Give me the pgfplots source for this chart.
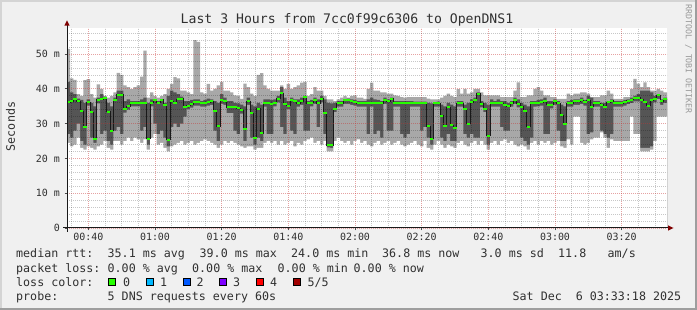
\documentclass[border=0pt]{standalone}
\usepackage{fontspec}
\setmainfont{DejaVu Sans Mono}
\usepackage{pgfplots}
\usepackage{pgfplotstable}
\pgfplotsset{compat=1.18}

\definecolor{bgc}{HTML}{F0F0F0}
\definecolor{shadea}{HTML}{D4D4D4}
\definecolor{shadeb}{HTML}{9E9E9E}
\definecolor{smokel}{HTML}{A8A8A8}
\definecolor{smoked}{HTML}{555555}
\definecolor{medgreen}{HTML}{26FF00}
\definecolor{arrowc}{HTML}{7F0000}
\definecolor{mgrid}{HTML}{C83232}
\definecolor{lc1}{HTML}{00B8FF}
\definecolor{lc2}{HTML}{0059FF}
\definecolor{lc3}{HTML}{7E00FF}
\definecolor{lc4}{HTML}{FF0000}
\definecolor{lc5}{HTML}{A10000}
\definecolor{txt}{HTML}{303030}

\newcommand\tfont{\fontsize{13.2}{15}\selectfont}
\newcommand\lfont{\fontsize{11.7}{14}\selectfont}
\newcommand\afont{\fontsize{10}{12}\selectfont}
\newcommand\wfont{\fontsize{8.3}{10}\selectfont}

\pgfplotstableread{
t lo q2 med q4 hi
33 24.5 27.0 36.2 42.0 51.5
34 24.5 27.0 36.2 42.0 51.5
35 23.5 26.0 36.5 39.0 43.0
36 24.0 28.0 37.0 38.5 42.6
37 26.0 30.0 36.5 37.2 38.5
38 23.0 25.0 33.5 36.8 38.0
39 22.5 24.0 29.0 36.0 42.5
40 23.5 35.2 36.2 37.0 42.8
41 23.0 26.0 33.3 36.0 38.5
42 22.5 24.5 25.7 35.0 37.5
43 23.5 35.8 36.8 37.5 41.3
44 24.0 27.0 37.0 38.5 40.0
45 25.0 28.0 37.3 37.8 38.0
46 23.0 25.0 33.4 36.0 37.5
47 22.5 24.0 28.0 35.0 38.0
48 25.0 28.0 36.8 37.5 39.0
49 25.0 29.0 38.3 39.5 44.6
50 24.0 27.0 38.3 39.5 44.0
51 25.0 33.2 34.2 36.5 41.0
52 26.0 34.0 35.0 37.0 40.5
53 25.0 35.0 36.0 36.5 39.9
54 26.0 35.0 36.0 36.5 40.5
55 25.5 35.0 36.0 36.5 41.0
56 24.5 28.0 36.0 37.0 43.5
57 25.5 29.0 35.8 37.5 51.0
58 22.5 24.0 25.7 36.0 37.5
59 26.0 35.0 36.0 37.0 39.0
60 27.0 30.0 36.8 37.0 38.0
61 24.0 27.0 36.0 36.5 37.5
62 24.5 28.0 36.8 37.0 38.0
63 23.0 26.0 35.5 36.0 38.5
64 22.0 23.5 25.3 38.0 40.0
65 23.5 29.0 36.4 39.5 41.4
66 24.0 30.0 36.0 39.0 43.4
67 24.5 29.0 37.0 38.5 43.0
68 25.0 30.0 37.1 37.8 39.5
69 24.0 32.0 34.7 36.5 39.5
70 24.5 34.2 35.2 36.5 39.0
71 25.0 34.6 35.6 36.8 38.5
72 24.0 35.2 36.2 37.0 54.0
73 24.5 35.2 36.2 37.0 53.5
74 25.0 34.9 35.9 36.5 39.0
75 25.5 34.9 35.9 36.8 38.6
76 25.0 35.2 36.2 37.2 41.4
77 24.5 35.4 36.4 37.0 39.5
78 24.0 28.0 33.5 36.5 40.0
79 23.0 25.0 29.2 36.0 41.0
80 24.0 35.7 36.7 38.5 42.0
81 25.0 35.4 36.4 37.5 39.5
82 24.5 33.0 34.7 36.5 39.5
83 25.0 33.0 34.7 36.5 39.0
84 24.5 28.0 34.9 36.0 38.1
85 24.0 27.0 34.4 35.8 38.0
86 23.5 32.9 33.9 35.5 37.1
87 23.0 25.0 28.6 35.0 41.5
88 23.5 35.4 36.4 37.5 40.5
89 23.5 26.0 33.0 35.5 38.6
90 22.5 24.0 26.0 35.0 38.0
91 23.0 26.0 34.3 36.0 44.0
92 23.0 25.0 27.3 35.5 44.5
93 24.5 34.9 35.9 37.0 41.0
94 25.0 27.0 35.9 37.0 40.0
95 24.5 27.0 35.7 36.8 39.5
96 25.0 35.0 36.0 37.0 39.5
97 24.0 36.1 37.1 38.0 39.5
98 25.0 29.0 38.8 40.5 41.0
99 24.0 27.0 35.7 37.5 40.0
100 24.5 34.2 35.2 36.5 41.4
101 25.0 28.0 36.7 37.5 40.0
102 23.5 27.0 36.4 37.0 40.5
103 24.5 34.9 35.9 37.0 41.0
104 24.0 35.4 36.4 37.5 41.8
105 25.0 28.0 37.6 38.0 42.0
106 25.5 28.0 35.9 36.5 38.0
107 26.0 35.0 36.0 36.8 38.5
108 24.5 35.7 36.7 37.5 40.5
109 25.0 29.0 35.9 37.0 39.5
110 24.0 36.1 37.1 38.0 39.5
111 25.0 27.0 33.1 37.0 38.0
112 22.0 23.2 23.8 36.0 37.0
113 22.0 23.0 23.8 35.8 37.0
114 25.0 33.3 34.3 36.0 36.5
115 26.0 34.9 35.9 36.5 37.0
116 25.0 34.9 35.9 36.5 37.5
117 24.5 35.7 36.7 37.0 38.0
118 25.0 35.7 36.7 37.2 37.5
119 24.0 35.4 36.4 37.0 38.0
120 25.0 35.2 36.2 36.8 38.1
121 25.5 34.9 35.9 36.5 37.5
122 24.5 34.9 35.9 36.5 37.5
123 25.0 34.9 35.9 36.5 37.1
124 24.0 27.0 35.9 37.0 40.0
125 23.5 34.9 35.9 37.5 41.8
126 24.5 27.0 35.9 37.0 39.5
127 25.0 28.0 35.9 36.8 39.5
128 24.0 26.0 35.9 36.5 39.0
129 24.5 35.7 36.7 37.5 39.0
130 25.0 28.0 36.4 37.0 38.6
131 24.0 28.0 37.1 37.5 38.6
132 24.5 34.9 35.9 36.5 38.1
133 25.0 34.9 35.9 36.5 38.0
134 24.0 27.0 35.9 36.5 37.6
135 23.5 26.0 35.9 36.5 37.5
136 24.0 27.0 35.9 36.5 37.6
137 24.5 34.9 35.9 36.5 37.6
138 25.0 34.9 35.9 36.3 37.6
139 24.0 34.9 35.9 36.3 37.6
140 23.5 28.0 35.9 36.3 37.6
141 25.0 29.0 35.9 36.3 37.6
142 23.0 26.0 29.3 36.0 37.2
143 22.5 24.0 25.7 35.8 37.0
144 24.0 34.9 35.9 36.2 37.0
145 25.0 34.9 35.9 36.3 37.0
146 24.0 26.0 32.2 35.5 37.5
147 23.0 25.0 29.3 35.0 38.0
148 24.0 27.0 34.7 36.0 38.6
149 23.5 25.0 29.5 35.5 38.0
150 23.0 25.0 28.7 35.0 37.6
151 24.5 34.9 35.9 36.5 39.9
152 25.0 34.9 35.9 36.5 38.6
153 24.0 27.0 34.3 35.5 40.0
154 23.5 26.0 30.0 36.0 38.6
155 24.5 27.0 36.2 37.0 39.0
156 25.0 26.0 36.7 37.5 40.0
157 24.0 26.0 38.6 39.0 40.0
158 25.0 34.7 35.7 36.5 39.0
159 24.0 33.3 34.3 36.0 38.1
160 22.5 24.0 26.5 35.5 38.1
161 24.5 34.9 35.9 37.0 38.1
162 25.0 34.9 35.9 36.5 38.1
163 24.0 34.9 35.9 37.0 38.1
164 25.0 29.0 35.9 36.5 37.6
165 25.5 28.0 35.5 36.5 37.6
166 24.5 28.0 35.0 36.0 37.6
167 25.0 34.9 35.9 36.5 37.6
168 24.0 35.7 36.7 37.5 39.5
169 23.5 34.7 35.7 37.0 41.9
170 24.0 26.0 34.8 36.0 37.6
171 23.5 25.0 33.5 35.5 37.6
172 22.5 24.0 29.1 35.0 38.1
173 24.5 26.0 35.9 36.5 38.1
174 25.0 34.9 35.9 36.5 40.0
175 24.0 35.0 36.0 36.8 40.5
176 25.0 35.2 36.2 37.0 39.5
177 24.5 27.0 36.4 37.5 38.1
178 25.0 27.0 35.4 36.5 38.1
179 24.0 34.4 35.4 36.5 37.6
180 24.5 35.4 36.4 37.0 37.6
181 25.0 28.0 35.9 36.5 37.1
182 23.5 25.0 32.4 35.5 37.1
183 23.0 25.0 30.0 35.0 37.1
184 25.5 34.9 35.9 36.5 38.6
185 24.0 34.9 35.9 36.8 38.1
186 32.0 35.4 36.4 37.0 38.6
187 32.0 35.4 36.4 37.0 38.6
188 24.5 35.7 36.7 37.5 39.0
189 24.0 35.2 36.2 36.8 39.0
190 24.5 27.0 36.7 38.0 38.6
191 25.5 27.5 34.8 37.5 37.6
192 26.0 34.9 35.9 36.5 37.6
193 26.0 34.9 35.9 36.5 37.6
194 27.5 28.0 35.4 36.0 38.1
195 26.0 27.0 34.8 36.0 38.1
196 23.0 26.0 36.2 36.5 39.5
197 25.5 27.0 36.6 37.0 38.6
198 25.0 34.9 35.9 36.5 37.1
199 25.0 34.9 35.9 36.5 37.1
200 25.0 34.9 35.9 36.5 37.1
201 25.0 35.2 36.2 36.8 37.6
202 25.0 35.6 36.6 37.0 37.6
203 32.0 35.9 36.9 37.5 40.0
204 27.0 36.4 37.4 38.0 42.9
205 27.0 36.4 37.4 38.5 41.5
206 22.0 23.0 36.9 39.5 40.5
207 22.0 23.0 36.3 39.5 41.9
208 22.0 23.0 35.2 39.5 40.5
209 22.5 23.5 36.7 39.0 39.5
210 25.0 36.1 37.1 38.0 39.5
211 32.0 37.1 38.1 38.5 40.0
212 32.0 35.4 36.4 37.0 39.5
213 32.0 36.0 37.0 37.5 39.0
214 32.0 36.0 37.0 37.5 39.0
}\smoke

\begin{document}
\begin{tikzpicture}
% background and 3D frame
\fill[bgc] (0bp,0bp) rectangle (697bp,310bp);
\fill[shadea] (0bp,0bp) rectangle (2bp,310bp);
\fill[shadea] (0bp,308bp) rectangle (697bp,310bp);
\fill[shadeb] (0bp,0bp) rectangle (697bp,2bp);
\fill[shadeb] (695bp,0bp) rectangle (697bp,310bp);

\begin{axis}[
  at={(67bp,82bp)}, anchor=south west,
  scale only axis, width=600bp, height=200bp,
  xmin=33.6, xmax=213.6, ymin=0, ymax=57.5,
  axis background/.style={fill=white},
  axis line style={draw=none},
  axis on top,
  xtick={40,60,...,200},
  xticklabels={00:40,01:00,01:20,01:40,02:00,02:20,02:40,03:00,03:20},
  minor xtick={35,45,50,55,65,70,75,85,90,95,105,110,115,125,130,135,145,150,155,165,170,175,185,190,195,205,210},
  ytick={0,10,...,50},
  yticklabels={0,10 m,20 m,30 m,40 m,50 m},
  minor ytick={2,4,6,8,12,14,16,18,22,24,26,28,32,34,36,38,42,44,46,48,52,54,56},
  grid=both,
  major grid style={draw=mgrid, opacity=0.45, dash pattern=on 1bp off 1bp, line width=0.9bp},
  minor grid style={draw=black, opacity=0.22, dash pattern=on 1bp off 1bp, line width=0.9bp},
  xtick pos=bottom, ytick pos=left,
  tick align=outside,
  major tick length=2.5bp, minor tick length=0bp,
  tick style={black!70, line width=0.8bp},
  ticklabel style={font=\afont, text=txt},
  xticklabel style={inner sep=0pt, anchor=north, yshift=-2.5bp},
  yticklabel style={inner sep=0pt, anchor=east, xshift=-4.5bp},
]
\addplot[const plot mark mid, fill=smokel, draw=none] table[x=t,y=hi]{\smoke} \closedcycle;
\addplot[const plot mark mid, fill=smoked, draw=none] table[x=t,y=q4]{\smoke} \closedcycle;
\addplot[const plot mark mid, fill=smokel, draw=none] table[x=t,y=q2]{\smoke} \closedcycle;
\addplot[const plot mark mid, fill=white, draw=none] table[x=t,y=lo]{\smoke} \closedcycle;
\addplot[const plot mark mid, draw=black!90, line width=1bp] table[x=t,y=med]{\smoke};
\addplot[only marks, mark=-, mark size=1.67bp, mark options={draw=medgreen, line width=2bp}] table[x=t,y=med]{\smoke};
\end{axis}

% axis lines and arrows
\draw[black!90, line width=1bp] (67bp,78bp) -- (67bp,284.5bp);
\fill[arrowc] (64.3bp,284.3bp) -- (69.7bp,284.3bp) -- (67bp,289.5bp) -- cycle;
\draw[black!90, line width=1bp] (63bp,82bp) -- (668bp,82bp);
\fill[arrowc] (668bp,84.7bp) -- (668bp,79.3bp) -- (673.5bp,82bp) -- cycle;

% title, axis label, watermark
\node[anchor=base, text=txt, font=\tfont, inner sep=0pt] at (347bp,286bp) {Last 3 Hours from 7cc0f99c6306 to OpenDNS1};
\node[rotate=90, text=txt, font=\lfont, inner sep=0pt] at (10.5bp,183.5bp) {Seconds};
\node[rotate=-90, text=black!40, font=\wfont, inner sep=0pt] at (688.5bp,251bp) {RRDTOOL / TOBI OETIKER};

% legend rows
\begin{scope}[every node/.style={anchor=base west, inner sep=0pt, text=txt, font=\lfont}]
\node at (16bp,52bp) {median rtt:};
\node at (107.5bp,52bp) {35.1 ms avg};
\node at (199.5bp,52bp) {39.0 ms max};
\node at (291bp,52bp) {24.0 ms min};
\node at (382bp,52bp) {36.8 ms now};
\node at (480.5bp,52bp) {3.0 ms sd};
\node at (558bp,52bp) {11.8};
\node at (607.5bp,52bp) {am/s};
\node at (16bp,38bp) {packet loss:};
\node at (107.5bp,38bp) {0.00 \% avg};
\node at (192bp,38bp) {0.00 \% max};
\node at (277.5bp,38bp) {0.00 \% min};
\node at (353.5bp,38bp) {0.00 \% now};
\node at (16bp,24bp) {loss color:};
\node at (123bp,24bp) {0};
\node at (160bp,24bp) {1};
\node at (196.5bp,24bp) {2};
\node at (233bp,24bp) {3};
\node at (270bp,24bp) {4};
\node at (307.5bp,24bp) {5/5};
\node at (16bp,10bp) {probe:};
\node at (107.5bp,10bp) {5 DNS requests every 60s};
\node at (512.5bp,10bp) {Sat Dec~~6 03:33:18 2025};
\end{scope}
\filldraw[fill=medgreen, draw=black, line width=1bp] (108.8bp,24.5bp) rectangle (115.8bp,31.5bp);
\filldraw[fill=lc1, draw=black, line width=1bp] (146.2bp,24.5bp) rectangle (153.2bp,31.5bp);
\filldraw[fill=lc2, draw=black, line width=1bp] (183.2bp,24.5bp) rectangle (190.2bp,31.5bp);
\filldraw[fill=lc3, draw=black, line width=1bp] (219.8bp,24.5bp) rectangle (226.8bp,31.5bp);
\filldraw[fill=lc4, draw=black, line width=1bp] (256.5bp,24.5bp) rectangle (263.5bp,31.5bp);
\filldraw[fill=lc5, draw=black, line width=1bp] (293.8bp,24.5bp) rectangle (300.8bp,31.5bp);
\end{tikzpicture}
\end{document}
